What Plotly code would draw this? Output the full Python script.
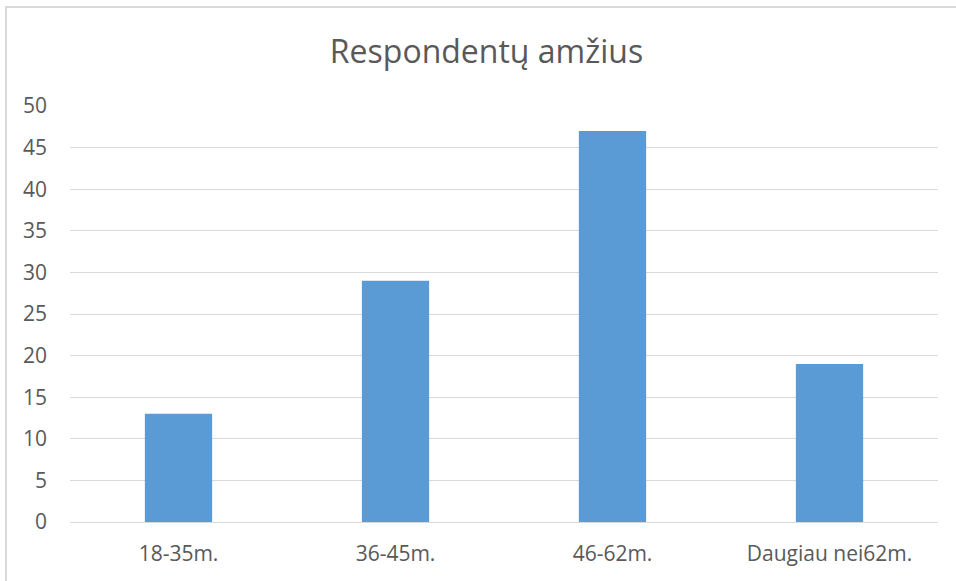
import plotly.graph_objects as go

categories = ["18-35m.", "36-45m.", "46-62m.", "Daugiau nei62m."]
values = [13, 29, 47, 19]
title_text = "Respondentų amžius"

fig = go.Figure(go.Bar(x=categories, y=values, marker_color="#5b9bd5",
                       marker_line_width=0, width=0.31))

fig.update_layout(
    width=956, height=581,
    margin=dict(l=70, r=18, t=106, b=59),
    paper_bgcolor="white", plot_bgcolor="white",
    title=dict(text=title_text, x=486.5/956, xanchor="center", y=1 - 52/581, yanchor="middle",
               font=dict(family="Open Sans", size=32, color="#595959")),
    font=dict(family="Open Sans", size=21, color="#595959"),
    showlegend=False,
    bargap=0.69,
)
fig.update_yaxes(range=[0, 50], dtick=5, showgrid=True, gridcolor="#d9d9d9", gridwidth=1,
                 zeroline=True, zerolinecolor="#d9d9d9", zerolinewidth=1,
                 ticks="", ticklabelstandoff=22, showline=False, fixedrange=True)
fig.update_xaxes(showline=False, ticks="", ticklabelstandoff=17, fixedrange=True)

fig.add_shape(type="rect", xref="paper", yref="paper",
              x0=(6 - 70) / 868, x1=1.2, y0=-0.3, y1=1 + (106 - 7) / 416,
              line=dict(color="#d9d9d9", width=2), fillcolor="rgba(0,0,0,0)", layer="below")

fig.write_html("out.html", post_script="document.body.style.margin='0';",
               config={"displayModeBar": False})
